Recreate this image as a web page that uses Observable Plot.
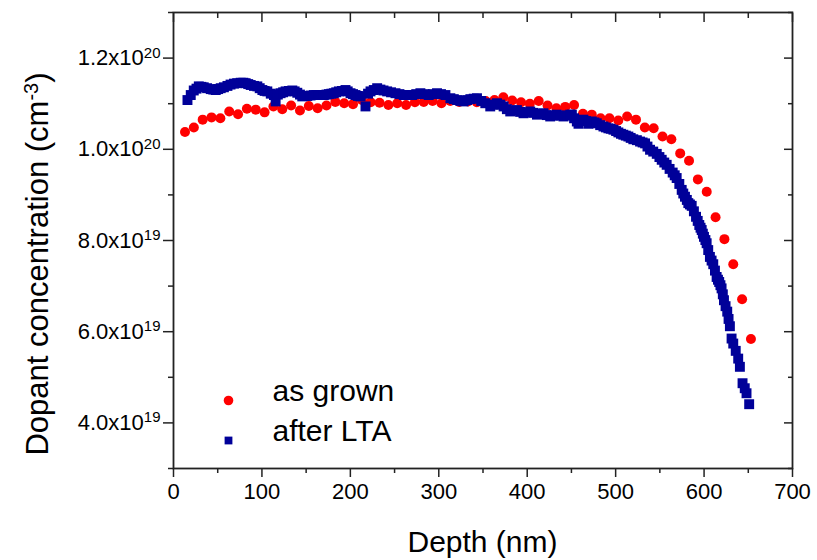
<!DOCTYPE html>
<html><head><meta charset="utf-8">
<script src="https://cdn.jsdelivr.net/npm/d3@7"></script>
<script src="https://cdn.jsdelivr.net/npm/@observablehq/plot@0.6"></script>
<style>
body{margin:0;background:#fff;}
#chart svg{display:block;}
g[aria-label="y-axis tick label"], g[aria-label="x-axis tick label"] { font-size: 22px; }
</style></head><body><div id="chart"></div>
<script>
// Depth in nm, concentration in units of 1e19 cm^-3
const asGrownDepth = [13,23,33,43,53,63,73,83,93,103,113,123,133,143,153,163,173,183,193,203,213,223,233,243,253,263,273,283,293,303,313,323,333,343,353,363,373,383,393,403,413,423,433,443,453,463,473,483,493,503,513,523,533,543,553,563,573,583,593,603,613,623,633,643,653];
const asGrownConc = [10.38,10.48,10.65,10.70,10.68,10.83,10.77,10.89,10.87,10.81,10.94,10.88,10.96,10.85,10.95,10.90,10.96,11.04,11.01,10.99,11.08,11.03,11.02,10.97,11.01,10.97,11.03,11.04,11.06,11.01,11.06,11.04,11.05,11.03,11.06,11.08,11.14,11.07,11.03,11.00,11.06,10.96,10.90,10.93,10.97,10.78,10.76,10.68,10.68,10.63,10.72,10.65,10.48,10.46,10.28,10.22,9.91,9.75,9.34,9.07,8.51,8.03,7.48,6.71,5.84];

const afterLTADepth = [15.8,19.5,22.9,26,28.6,31.5,34.2,38,42.1,45,47.8,50.5,53.4,57,61,64.5,68.4,72,76,79,81.6,84.5,87.3,91,94.8,97.5,100.5,103,106.1,110,113.6,115.5,118,121.1,124,126.8,130.5,134.4,137,140,143,145.6,148.5,151.3,155,158.7,161.5,164.4,167,170,173,175.7,178.5,181.3,184,187,190.5,194.5,197,200.2,203,205.8,208.5,211.5,217.1,220,222.8,226.5,230.3,234,237.5,241.6,246,251,255.5,260.4,265,269.8,274.5,279.2,284,288.6,293.5,298,302.5,307.5,313.1,317,320.7,324.5,328.1,332,335.7,339.5,343.2,348,352.6,358.2,362,365.8,369.5,373.3,377,380.8,384.5,388.4,392,395.8,399.5,403.4,407,411,414.5,418.4,422,426,429.5,433.5,437.5,441,445,448.6,450.5,453,456.1,458,461,463.6,466.5,469.2,473,476,478.7,482.5,486.2,489,491.8,494.5,497.5,500.5,503.1,506,508.7,511.5,514.4,517,520,524,527.6,530.5,533.3,536,538.9,542.5,546.5,549.5,552.1,555,557.7,561,564.5,566.8,569,572,574.7,576.5,578.4,580.5,582.2,584,586,588.5,590.9,592.8,594.6,596,597.3,598.6,599.9,601.5,602.9,604.7,606.6,608.5,610.4,612.3,614.2,615.7,617.1,618.5,619.8,621.2,622.5,624.3,626.2,627.7,629.2,631.1,633,635.8,638.6,640.5,643.5,646,648,651];
const afterLTAConc = [11.08,11.19,11.29,11.33,11.38,11.37,11.36,11.34,11.32,11.31,11.30,11.32,11.34,11.36,11.39,11.42,11.44,11.45,11.46,11.46,11.45,11.43,11.41,11.39,11.38,11.34,11.30,11.28,11.27,11.22,11.19,11.05,11.20,11.23,11.25,11.27,11.28,11.29,11.27,11.24,11.20,11.16,11.17,11.17,11.18,11.19,11.19,11.19,11.19,11.19,11.20,11.21,11.22,11.23,11.25,11.27,11.28,11.30,11.27,11.23,11.21,11.19,11.17,11.16,10.94,11.22,11.27,11.30,11.34,11.31,11.29,11.27,11.25,11.23,11.21,11.19,11.19,11.19,11.21,11.23,11.21,11.19,11.21,11.23,11.21,11.19,11.12,11.10,11.08,11.06,11.05,11.08,11.10,11.11,11.12,11.06,11.01,10.94,10.98,11.01,10.98,10.94,10.88,10.83,10.85,10.86,10.82,10.79,10.81,10.83,10.80,10.76,10.78,10.79,10.75,10.72,10.74,10.76,10.74,10.72,10.74,10.76,10.76,10.68,10.61,10.56,10.63,10.65,10.62,10.56,10.61,10.59,10.57,10.53,10.50,10.48,10.46,10.45,10.43,10.40,10.37,10.34,10.32,10.30,10.28,10.25,10.22,10.20,10.17,10.15,10.13,10.06,9.99,9.95,9.90,9.83,9.77,9.71,9.66,9.57,9.49,9.43,9.37,9.24,9.11,9.03,8.96,8.89,8.82,8.79,8.76,8.64,8.52,8.43,8.34,8.28,8.23,8.15,8.08,8.01,7.94,7.79,7.64,7.56,7.48,7.34,7.20,7.14,7.09,7.02,6.95,6.82,6.69,6.56,6.44,6.28,6.12,5.85,5.74,5.58,5.41,5.23,4.87,4.76,4.65,4.41];

const seriesNames = ["as grown", "after LTA"];
const seriesColors = ["#ff0000", "#000099"];
const xTicks = [0,100,200,300,400,500,600,700];
const xMinorTicks = [50,150,250,350,450,550,650];
const yTicks = [4,6,8,10,12];
const yMinorTicks = [3,5,7,9,11,13];
const yTickLabels = ["4.0x10^19","6.0x10^19","8.0x10^19","1.0x10^20","1.2x10^20"];
const xTitle = "Depth (nm)";
const yTitleBase = "Dopant concentration (cm";
const yTitleSup = "-3";
const yTitleEnd = ")";

const grown = asGrownDepth.map((d,i)=>({depth:d, conc:asGrownConc[i]}));
const lta = afterLTADepth.map((d,i)=>({depth:d, conc:afterLTAConc[i]}));

const axisColor = "#222";
const chart = Plot.plot({
  width: 817, height: 560,
  marginLeft: 173, marginRight: 25, marginTop: 12, marginBottom: 92,
  style: {fontFamily: "'Liberation Sans', Arial, sans-serif", background: "#fff", color: "#000"},
  x: {domain: [0, 700]},
  y: {domain: [3, 13]},
  marks: [
    Plot.axisX({ticks: xTicks, tickSize: 9, tickPadding: 6, fontSize: 22, label: null, tickFormat: d => String(d), stroke: axisColor, strokeWidth: 1.5}),
    Plot.axisX({ticks: xMinorTicks, tickSize: 5, label: null, tickFormat: () => "", stroke: axisColor, strokeWidth: 1.5}),
    Plot.axisX({anchor: "top", ticks: xTicks, tickSize: -9, label: null, tickFormat: () => "", stroke: axisColor, strokeWidth: 1.5}),
    Plot.axisX({anchor: "top", ticks: xMinorTicks, tickSize: -5, label: null, tickFormat: () => "", stroke: axisColor, strokeWidth: 1.5}),
    Plot.axisY({ticks: yTicks, tickSize: 10, tickPadding: 3, fontSize: 22, label: null, tickFormat: d => yTickLabels[yTicks.indexOf(d)], stroke: axisColor, strokeWidth: 1.5}),
    Plot.axisY({ticks: yMinorTicks, tickSize: 5, label: null, tickFormat: () => "", stroke: axisColor, strokeWidth: 1.5}),
    Plot.axisY({anchor: "right", ticks: yTicks, tickSize: -9, label: null, tickFormat: () => "", stroke: axisColor, strokeWidth: 1.5}),
    Plot.axisY({anchor: "right", ticks: yMinorTicks, tickSize: -5, label: null, tickFormat: () => "", stroke: axisColor, strokeWidth: 1.5}),
    Plot.frame({stroke: axisColor, strokeWidth: 1.8}),
    Plot.dot(grown, {x: "depth", y: "conc", r: 5, fill: seriesColors[0], symbol: "circle"}),
    Plot.dot(lta, {x: "depth", y: "conc", r: 5.6, fill: seriesColors[1], symbol: "square"}),
    // legend
    Plot.dot([seriesNames[0]], {frameAnchor: "bottom-left", dx: 55, dy: -68, r: 4.8, fill: seriesColors[0], symbol: "circle"}),
    Plot.dot([seriesNames[1]], {frameAnchor: "bottom-left", dx: 55, dy: -28, r: 4.4, fill: seriesColors[1], symbol: "square"}),
    Plot.text([seriesNames[0]], {text: d => d, frameAnchor: "bottom-left", dx: 99, dy: -68, textAnchor: "start", fontSize: 30, fill: "#000"}),
    Plot.text([seriesNames[1]], {text: d => d, frameAnchor: "bottom-left", dx: 99, dy: -28, textAnchor: "start", fontSize: 30, fill: "#000"})
  ]
});

const svg = d3.select(chart);
svg.selectAll('g[aria-label="y-axis tick label"], g[aria-label="x-axis tick label"]').attr("font-size", 22);
svg.selectAll('g[aria-label="y-axis tick label"] text').each(function() {
  const t = this.textContent;
  if (!t.includes("^")) return;
  const [b, e] = t.split("^");
  const s = d3.select(this);
  s.text(b);
  s.append("tspan").attr("dy", "-0.5em").attr("font-size", "15px").text(e);
});
svg.append("text")
  .attr("x", (173 + 792) / 2).attr("y", 552)
  .attr("text-anchor", "middle").attr("font-size", 30).attr("fill", "#000")
  .text(xTitle);
const yt = svg.append("text")
  .attr("transform", "translate(48,264) rotate(-90)")
  .attr("text-anchor", "middle").attr("font-size", 31).attr("fill", "#000");
yt.append("tspan").text(yTitleBase);
yt.append("tspan").attr("dy", "-0.5em").attr("font-size", 20).text(yTitleSup);
yt.append("tspan").attr("dy", "0.33em").text(yTitleEnd);
document.getElementById("chart").appendChild(chart);
</script>
</body></html>
